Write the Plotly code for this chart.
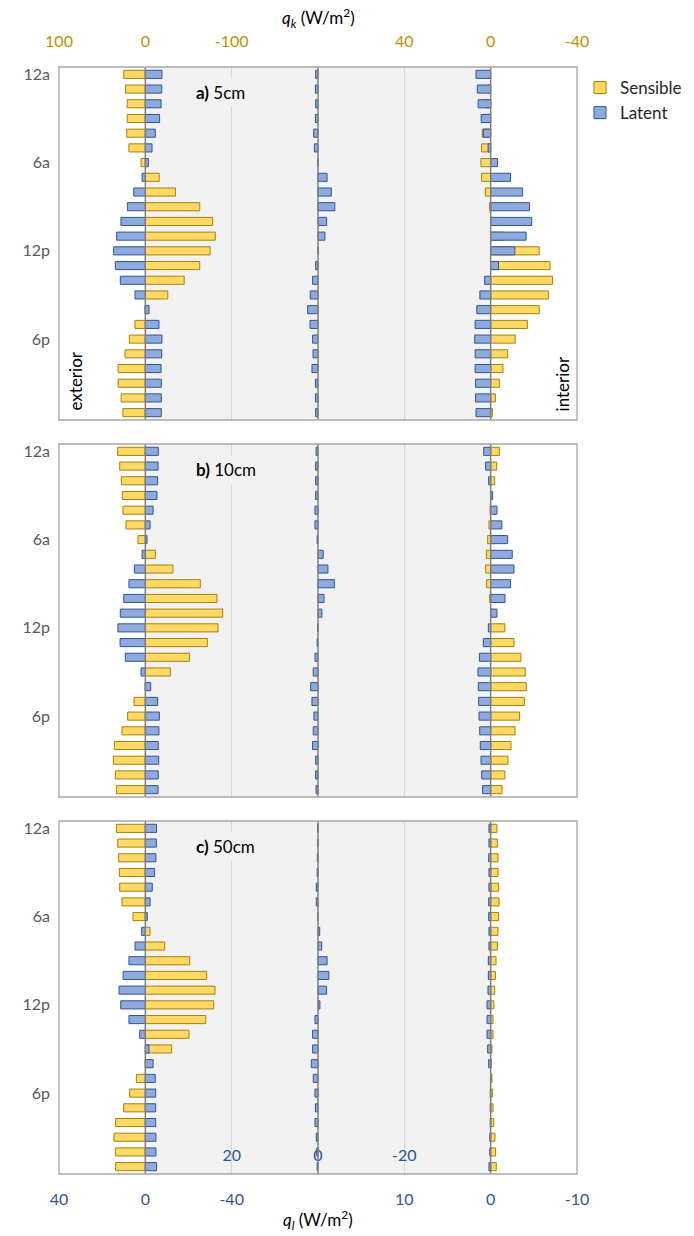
import plotly.graph_objects as go

# ---------------- data ----------------
hours = list(range(24))
hour_ticks = [0, 6, 12, 18]
hour_labels = ["12a", "6a", "12p", "6p"]

panel_names = ["a)", "b)", "c)"]
panel_depths = ["5cm", "10cm", "50cm"]

# a) 5cm
a_ext_sensible = [25, 23, 21, 21, 21.5, 19, 5, -16, -35, -63, -78, -81, -75, -63, -45, -26, 0.5, 12, 18.5, 23.5, 31.5, 31.5, 28, 26]
a_ext_latent = [-7.7, -7.6, -7.3, -6.6, -4.6, -3.1, -1.4, 1.5, 5.4, 8.3, 11.3, 13.3, 14.7, 13.9, 11.6, 4.8, -1.7, -6.3, -7.7, -7.6, -7.3, -7.4, -7.4, -7.4]
a_mid_latent = [0.55, 0.6, 0.55, 0.6, 1.0, 0.85, 0.05, -2.1, -3.1, -3.9, -2.0, -1.6, -0.05, 0.55, 1.25, 1.8, 2.4, 1.85, 1.25, 1.15, 1.4, 0.6, 0.6, 0.55]
a_int_sensible = [0.5, 1.5, 2.5, 3.3, 3.9, 4.2, 4.5, 4.2, 2.5, 0.5, -1, -6, -22.5, -27.5, -28.7, -26.7, -22.5, -17, -11.4, -7.9, -5.7, -4.0, -2.2, -0.8]
a_int_latent = [1.7, 1.55, 1.45, 1.1, 0.85, 0.3, -0.8, -2.3, -3.7, -4.5, -4.75, -4.1, -2.8, -0.9, 0.7, 1.25, 1.6, 1.8, 1.85, 1.8, 1.8, 1.75, 1.75, 1.7]

# b) 10cm
b_ext_sensible = [32, 29.7, 27.8, 26.6, 25.9, 22.4, 8.5, -11.6, -32, -63.7, -83, -89.6, -84.2, -71.8, -51, -29, 0, 13.1, 20.5, 27, 35.9, 37, 34.7, 33.6]
b_ext_latent = [-6.0, -5.9, -5.7, -5.4, -3.6, -2.2, -0.8, 1.5, 5.1, 7.6, 10, 11.6, 12.7, 11.7, 9.3, 2.0, -2.5, -5.7, -6.5, -6.3, -6.0, -6.2, -6.0, -5.9]
b_mid_latent = [0.45, 0.55, 0.55, 0.55, 0.7, 0.7, 0.2, -1.2, -2.3, -3.8, -1.4, -0.9, 0.1, 0.2, 0.7, 1.1, 1.7, 1.4, 0.95, 1.1, 1.25, 0.55, 0.55, 0.45]
b_int_sensible = [-4.0, -2.8, -1.85, -0.5, 0.3, 0.8, 1.4, 2.0, 2.3, 1.85, 0.45, -1.0, -6.6, -10.8, -14, -16, -16.5, -15.6, -13.4, -11.3, -9.4, -8.0, -6.6, -5.25]
b_int_latent = [0.8, 0.58, 0.23, -0.23, -0.73, -1.3, -1.97, -2.5, -2.7, -2.3, -1.66, -0.73, 0.27, 0.85, 1.3, 1.47, 1.43, 1.39, 1.35, 1.27, 1.2, 1.12, 1.04, 0.93]

# c) 50cm
c_ext_sensible = [33.6, 32, 30.9, 30.1, 29.7, 27, 14.3, -5.4, -22.4, -51.4, -71, -80.7, -79.2, -70, -50.6, -30.5, 0, 10.4, 18.1, 25.1, 34.4, 36.3, 34.7, 34.4]
c_ext_latent = [-5.2, -5.1, -4.9, -4.3, -3.2, -2.2, -0.9, 1.7, 4.8, 7.6, 10.3, 12.2, 11.4, 7.6, 2.6, -1.7, -3.6, -4.6, -4.8, -4.8, -4.8, -4.9, -4.9, -5.2]
c_mid_latent = [0.1, 0.1, 0.15, 0.2, 0.4, 0.4, 0.1, -0.4, -0.85, -2.1, -2.5, -2.0, -0.45, 0.7, 1.25, 1.25, 1.55, 1.1, 0.7, 0.6, 0.7, 0.4, 0.3, 0.2]
c_int_sensible = [-2.9, -3.1, -3.4, -3.4, -3.7, -3.9, -3.7, -3.4, -3.1, -2.5, -2.2, -1.85, -1.5, -1.1, -1.1, -0.6, -0.3, -0.6, -0.8, -1.1, -1.4, -2.0, -2.3, -2.6]
c_int_latent = [0.2, 0.2, 0.23, 0.2, 0.2, 0.23, 0.23, 0.2, 0.2, 0.27, 0.27, 0.31, 0.42, 0.42, 0.42, 0.35, 0.23, 0.0, 0.04, 0.05, 0.05, 0.1, 0.1, 0.2]

# tick labels of the three sections
ext_sens_ticks = [100, 0, -100]
int_sens_ticks = [40, 0, -40]
ext_lat_ticks = [40, 0, -40]
mid_lat_ticks = [20, 0, -20]
int_lat_ticks = [10, 0, -10]

panels = [
    dict(ext_s=a_ext_sensible, ext_l=a_ext_latent, mid_l=a_mid_latent, int_s=a_int_sensible, int_l=a_int_latent),
    dict(ext_s=b_ext_sensible, ext_l=b_ext_latent, mid_l=b_mid_latent, int_s=b_int_sensible, int_l=b_int_latent),
    dict(ext_s=c_ext_sensible, ext_l=c_ext_latent, mid_l=c_mid_latent, int_s=c_int_sensible, int_l=c_int_latent),
]

# ---------------- style ----------------
FONT = "Lato"
SENS_FILL, SENS_LINE = "#FFD966", "#A88000"
LAT_FILL, LAT_LINE = "#8FAADC", "#2F5597"
ORANGE_TXT, BLUE_TXT = "#BF9000", "#2F5597"
W, H = 694, 1236
ml, mr, mt, mb = 59, 117, 67, 62
plot_h = H - mt - mb
bottom_px = H - mb

def py(px):
    return (bottom_px - px) / plot_h

panel_px = [(67, 420), (444, 797), (821, 1174)]

fig = go.Figure()
layout = dict()
shapes = []
annotations = []

axis_specs = [
    ("ext_s", [100, -500], ext_sens_ticks, "top"),
    ("int_s", [200, -40], int_sens_ticks, "top"),
    ("ext_l", [40, -200], ext_lat_ticks, "bottom"),
    ("mid_l", [60, -60], mid_lat_ticks, "bottom"),
    ("int_l", [50, -10], int_lat_ticks, "bottom"),
]

for p, pdata in enumerate(panels):
    yname = "y" if p == 0 else f"y{p+1}"
    ylay = "yaxis" if p == 0 else f"yaxis{p+1}"
    top_px, bot_px = panel_px[p]
    layout[ylay] = dict(
        domain=[py(bot_px), py(top_px)],
        range=[23.5, -0.5],
        tickvals=hour_ticks, ticktext=hour_labels,
        showgrid=False, zeroline=False, ticks="",
        tickfont=dict(family=FONT, size=16, color="#595959"),
        ticklabelstandoff=8, automargin=False,
        anchor=f"x{p*5+1}" if p > 0 else "x",
    )
    base_id = p * 5 + 1
    base_name = "x" if base_id == 1 else f"x{base_id}"
    for k, (key, rng, ticks, side) in enumerate(axis_specs):
        aid = base_id + k
        xname = "x" if aid == 1 else f"x{aid}"
        xlay = "xaxis" if aid == 1 else f"xaxis{aid}"
        is_sens = key.endswith("_s")
        show_lbl = (p == 0 and side == "top") or (p == 2 and side == "bottom")
        ax = dict(
            domain=[0, 1], range=rng, side=side, anchor=yname,
            tickvals=ticks, ticktext=[str(t) for t in ticks],
            showticklabels=show_lbl, ticks="", zeroline=False,
            showgrid=is_sens, gridcolor="#D9D9D9", gridwidth=1,
            tickfont=dict(family=FONT, size=16, color=ORANGE_TXT if is_sens else BLUE_TXT),
            ticklabelstandoff=16 if side == "top" else 14,
            automargin=False, fixedrange=True,
        )
        if key == "mid_l":
            ax["ticklabelposition"] = "inside"
            ax["ticklabelstandoff"] = 7
        if k > 0:
            ax["overlaying"] = base_name
        layout[xlay] = ax

        fig.add_trace(go.Bar(
            y=hours, x=pdata[key], orientation="h", width=0.55,
            xaxis=xname, yaxis=yname,
            name="Sensible" if is_sens else "Latent",
            legendgroup="Sensible" if is_sens else "Latent",
            legendrank=1 if is_sens else 2,
            showlegend=(p == 0 and key in ("ext_s", "ext_l")),
            marker=dict(color=SENS_FILL if is_sens else LAT_FILL,
                        line=dict(color=SENS_LINE if is_sens else LAT_LINE, width=1)),
            hoverinfo="skip",
        ))

    xdom = f"{base_name} domain"
    ydom = f"{yname} domain"
    shapes.append(dict(type="rect", xref=xdom, yref=ydom, x0=1/6, x1=5/6, y0=0, y1=1,
                       fillcolor="#F2F2F2", line=dict(width=0), layer="below"))
    for zname in (base_name, f"x{base_id+1}", f"x{base_id+3}"):
        shapes.append(dict(type="line", xref=zname, yref=ydom, x0=0, x1=0, y0=0, y1=1,
                           line=dict(color="#808080", width=1.5), layer="above"))
    shapes.append(dict(type="rect", xref=xdom, yref=ydom, x0=0, x1=1, y0=0, y1=1,
                       line=dict(color="#A6A6A6", width=1.3), layer="above"))
    annotations.append(dict(xref=xdom, yref=ydom, x=0.256, y=0.928, xanchor="left", yanchor="middle",
                            text=f"<b>{panel_names[p]}</b> {panel_depths[p]}", showarrow=False,
                            font=dict(family=FONT, size=17, color="#000000"),
                            bgcolor="#F2F2F2", borderpad=3))
    if p == 0:
        annotations.append(dict(xref=xdom, yref=ydom, x=0.031, y=0.02, xanchor="center", yanchor="bottom",
                                text="exterior", textangle=-90, showarrow=False,
                                font=dict(family=FONT, size=17, color="#000000")))
        annotations.append(dict(xref=xdom, yref=ydom, x=0.971, y=0.02, xanchor="center", yanchor="bottom",
                                text="interior", textangle=-90, showarrow=False,
                                font=dict(family=FONT, size=17, color="#000000")))

annotations.append(dict(xref="paper", yref="paper", x=0.5, y=py(18), xanchor="center", yanchor="middle",
                        text="<i>q</i><sub><i>k</i></sub> (W/m<sup>2</sup>)", showarrow=False,
                        font=dict(family=FONT, size=17, color="#000000")))
annotations.append(dict(xref="paper", yref="paper", x=0.5, y=py(1220), xanchor="center", yanchor="middle",
                        text="<i>q</i><sub><i>l</i></sub> (W/m<sup>2</sup>)", showarrow=False,
                        font=dict(family=FONT, size=17, color="#000000")))

fig.update_layout(
    width=W, height=H,
    margin=dict(l=ml, r=mr, t=mt, b=mb, autoexpand=False),
    paper_bgcolor="white", plot_bgcolor="white",
    barmode="overlay",
    shapes=shapes, annotations=annotations,
    legend=dict(x=(580 - ml) / (W - ml - mr), y=py(70), xanchor="left", yanchor="top",
                tracegroupgap=0,
                font=dict(family=FONT, size=17, color="#262626"), bgcolor="rgba(0,0,0,0)"),
    **layout,
)

fig.write_html("out.html", config={"displayModeBar": False},
               post_script="document.body.style.margin='0px';document.body.style.overflow='hidden';")
